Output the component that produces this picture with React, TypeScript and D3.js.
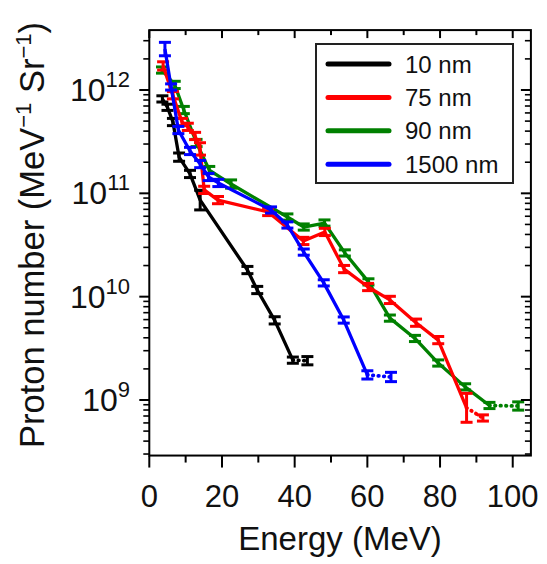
import React from "react";
import * as d3 from "d3";

const W = 547;
const H = 564;

const seriesNames = ["10 nm", "75 nm", "90 nm", "1500 nm"];
const seriesColors = ["#000000", "#ff0000", "#008000", "#0000ff"];

// 10 nm
const blackE = [3.6, 5.0, 6.5, 8.2, 11.2, 14.0, 27.0, 29.7, 34.5, 39.5, 43.5];
const blackN = [8.2e11, 6.8e11, 4.9e11, 2.24e11, 1.54e11, 8.6e10, 1.81e10, 1.16e10, 5.9e9, 2.43e9, 2.4e9];
const blackErr = [0.03, 0.03, 0.035, 0.04, 0.035, 0.095, 0.035, 0.035, 0.035, 0.03, 0.04];

// 75 nm
const redE = [3.8, 6.5, 9.0, 10.6, 12.6, 13.95, 15.1, 18.9, 32.7, 42.4, 48.3, 53.6, 60.2, 66.2, 73.4, 79.5, 87.3, 91.8];
const redN = [1.71e12, 8.9e11, 4.9e11, 4.4e11, 3.59e11, 2.69e11, 1.08e11, 8.6e10, 6.6e10, 3.46e10, 4.23e10, 1.85e10, 1.24e10, 9.3e9, 5.6e9, 3.8e9, 8.4e8, 6.7e8];
const redErr = [0.04, 0.035, 0.035, 0.035, 0.035, 0.06, 0.035, 0.035, 0.035, 0.035, 0.035, 0.035, 0.035, 0.035, 0.035, 0.035, 0.14, 0.03];

// 90 nm
const greenE = [3.5, 7.0, 9.5, 13.0, 16.5, 22.5, 38.0, 42.5, 48.2, 53.8, 60.3, 66.2, 73.1, 79.5, 86.9, 93.6, 101.5];
const greenN = [1.56e12, 1.12e12, 6.4e11, 3.07e11, 1.68e11, 1.23e11, 5.9e10, 4.72e10, 5.16e10, 2.65e10, 1.39e10, 6.2e9, 3.94e9, 2.28e9, 1.34e9, 8.85e8, 8.75e8];
const greenErr = [0.03, 0.035, 0.035, 0.035, 0.035, 0.04, 0.03, 0.03, 0.03, 0.03, 0.03, 0.03, 0.03, 0.03, 0.03, 0.03, 0.04];

// 1500 nm
const blueE = [4.3, 6.0, 8.0, 11.2, 14.0, 16.3, 19.0, 33.5, 38.0, 42.5, 48.0, 53.5, 60.0, 66.5];
const blueN = [2.49e12, 1.07e12, 4.1e11, 2.57e11, 1.92e11, 1.44e11, 1.26e11, 6.9e10, 4.94e10, 2.7e10, 1.36e10, 5.94e9, 1.75e9, 1.67e9];
const blueErr = [0.065, 0.03, 0.035, 0.035, 0.035, 0.035, 0.035, 0.03, 0.03, 0.03, 0.03, 0.03, 0.04, 0.045];

const xTicksMajor = [0, 20, 40, 60, 80, 100];
const xTicksMinor = [10, 30, 50, 70, 90];
const yExponents = [9, 10, 11, 12];

const FONT = "'Liberation Sans', Arial, Helvetica, sans-serif";

export default function App() {
  const x0 = 149.3;
  const x1 = 530.9;
  const x = d3.scaleLinear().domain([0, 105]).range([x0, x1]);
  const yLo = 2.9e8;
  const yHi = 3.8e12;
  const decPx = 103.33;
  const yTop = 90 - Math.log10(yHi / 1e12) * decPx;
  const yBot = 400 + Math.log10(1e9 / yLo) * decPx;
  const y = d3.scaleLog().domain([yLo, yHi]).range([yBot, yTop]);

  const yMinor: number[] = [];
  for (let e = 8; e <= 12; e++) {
    for (let m = 2; m <= 9; m++) {
      const v = m * Math.pow(10, e);
      if (v >= yLo && v <= yHi) yMinor.push(v);
    }
  }

  const series = [
    { E: blackE, N: blackN, err: blackErr, color: seriesColors[0] },
    { E: greenE, N: greenN, err: greenErr, color: seriesColors[2] },
    { E: redE, N: redN, err: redErr, color: seriesColors[1] },
    { E: blueE, N: blueN, err: blueErr, color: seriesColors[3] },
  ];

  const line = d3
    .line<[number, number]>()
    .x((d) => x(d[0]))
    .y((d) => y(d[1]));

  const capW = 6;

  return (
    <svg
      width={W}
      height={H}
      style={{ position: "absolute", left: 0, top: 0, background: "#fff" }}
      fontFamily={FONT}
    >
      <rect x={0} y={0} width={W} height={H} fill="#fff" />
      {/* data */}
      {series.map((s, si) => {
        const pts: [number, number][] = s.E.map((e, i) => [e, s.N[i]]);
        const solid = pts.slice(0, pts.length - 1);
        const tail = pts.slice(pts.length - 2);
        return (
          <g key={si}>
            <path d={line(solid) || ""} fill="none" stroke={s.color} strokeWidth={3.3} strokeLinejoin="round" />
            <path
              d={line(tail) || ""}
              fill="none"
              stroke={s.color}
              strokeWidth={3.8}
              strokeDasharray="0.5,5"
              strokeLinecap="round"
            />
            {pts.map((p, i) => {
              const cx = x(p[0]);
              const yu = y(p[1] * Math.pow(10, s.err[i]));
              const yd = y(p[1] / Math.pow(10, s.err[i]));
              return (
                <g key={i} stroke={s.color} strokeWidth={3}>
                  <line x1={cx} x2={cx} y1={yu} y2={yd} />
                  <line x1={cx - capW} x2={cx + capW} y1={yu} y2={yu} />
                  <line x1={cx - capW} x2={cx + capW} y1={yd} y2={yd} />
                </g>
              );
            })}
          </g>
        );
      })}

      {/* frame */}
      <rect x={x0} y={yTop} width={x1 - x0} height={yBot - yTop} fill="none" stroke="#000" strokeWidth={2} />

      {/* x ticks */}
      {xTicksMajor.map((t) => (
        <g key={"xM" + t}>
          <line x1={x(t)} x2={x(t)} y1={yBot} y2={yBot + 12} stroke="#000" strokeWidth={2} />
          <line x1={x(t)} x2={x(t)} y1={yTop} y2={yTop + 8} stroke="#000" strokeWidth={2} />
          <text x={x(t)} y={507} fontSize={31} textAnchor="middle" fill="#111">
            {t}
          </text>
        </g>
      ))}
      {xTicksMinor.map((t) => (
        <g key={"xm" + t}>
          <line x1={x(t)} x2={x(t)} y1={yBot} y2={yBot + 7} stroke="#000" strokeWidth={2} />
          <line x1={x(t)} x2={x(t)} y1={yTop} y2={yTop + 5} stroke="#000" strokeWidth={2} />
        </g>
      ))}

      {/* y ticks */}
      {yExponents.map((e) => {
        const v = Math.pow(10, e);
        const ty = y(v);
        return (
          <g key={"yM" + e}>
            <line x1={x0 - 10} x2={x0} y1={ty} y2={ty} stroke="#000" strokeWidth={2} />
            <line x1={x1 - 10} x2={x1} y1={ty} y2={ty} stroke="#000" strokeWidth={2} />
            <text x={130} y={ty + 11} fontSize={32} textAnchor="end" fill="#111">
              <tspan>10</tspan>
              <tspan fontSize={22} dy={-14}>
                {e}
              </tspan>
            </text>
          </g>
        );
      })}
      {yMinor.map((v, i) => (
        <g key={"ym" + i}>
          <line x1={x0 - 6} x2={x0} y1={y(v)} y2={y(v)} stroke="#000" strokeWidth={1.6} />
          <line x1={x1 - 6} x2={x1} y1={y(v)} y2={y(v)} stroke="#000" strokeWidth={1.6} />
        </g>
      ))}

      {/* axis titles */}
      <text x={340} y={550} fontSize={33} textAnchor="middle" fill="#111">
        Energy (MeV)
      </text>
      <text transform="translate(44,448) rotate(-90)" fontSize={34.5} fill="#111">
        <tspan>Proton number (MeV</tspan>
        <tspan fontSize={22} dy={-13}>−1</tspan>
        <tspan dy={13}> Sr</tspan>
        <tspan fontSize={22} dy={-13}>−1</tspan>
        <tspan dy={13}>)</tspan>
      </text>

      {/* legend */}
      <rect x={316} y={44} width={197} height={139} fill="#fff" stroke="#222" strokeWidth={2} />
      {seriesNames.map((n, i) => {
        const ly = 64 + i * 33.4;
        return (
          <g key={n}>
            <line x1={328} x2={389} y1={ly} y2={ly} stroke={seriesColors[i]} strokeWidth={5} strokeLinecap="round" />
            <text x={405} y={ly + 8.5} fontSize={24} fill="#111">
              {n}
            </text>
          </g>
        );
      })}
    </svg>
  );
}
